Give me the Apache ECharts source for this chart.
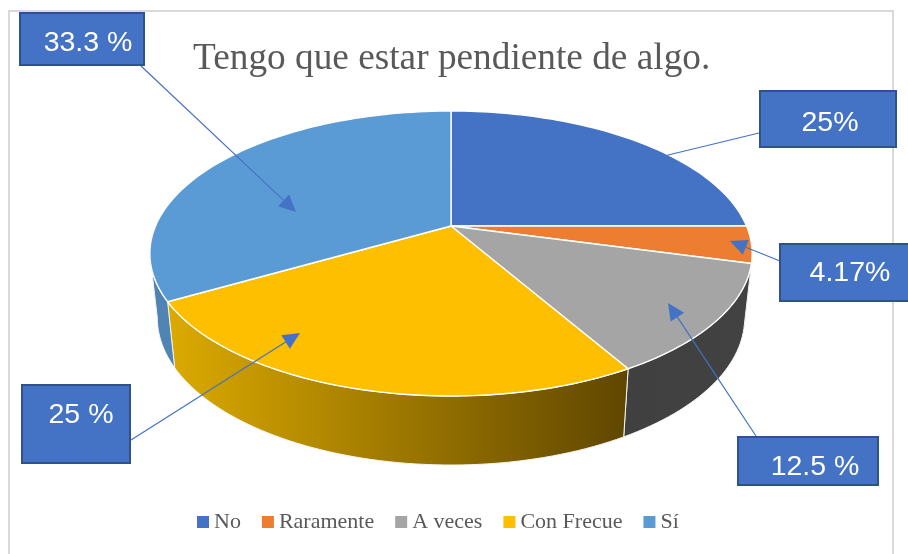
<!DOCTYPE html>
<html>
<head>
<meta charset="utf-8">
<style>html,body{margin:0;padding:0;background:#fff}#c{width:908px;height:554px}</style>
<script src="https://cdn.jsdelivr.net/npm/echarts@6/dist/echarts.min.js"></script>
</head>
<body>
<div id="c"></div>
<script>
const categories = ['No', 'Raramente', 'A veces', 'Con Frecue', 'Sí'];
const values = [25, 4.17, 12.5, 25, 33.3];
const topColors = ['#4472c4', '#ed7d31', '#a5a5a5', '#fdbf00', '#5b9bd5'];
const wallLeft = ['#2f5597', '#a5571f', '#404040', '#dcaa00', '#4f82ae'];
const wallRight = ['#2f5597', '#a5571f', '#424242', '#5f4600', '#4f86b8'];
const calloutTexts = ['25%', '4.17%', '12.5 %', '25 %', '33.3 %'];

// Perspective frame of the pie
const frame = {
  cx: 451, apexY: 226, b: 295.5, a: 137.2, k: 0.193,
  topCy: 253.5, topRx: 301, topRy: 142.5,
  botCy: 318, botRx: 293.5, botRy: 147
};
const total = values.reduce((s, v) => s + v, 0);
const starts = [];
values.reduce((s, v, i) => { starts[i] = s; return s + v; }, 0);
// Angle at which the rim reaches its horizontal extreme: the wall's silhouette
const silhouette = Math.acos(-frame.k) * 180 / Math.PI;

function rim(deg) {            // deg clockwise from north
  const r = deg * Math.PI / 180;
  const x = Math.sin(r), y = -Math.cos(r), d = 1 - frame.k * y;
  return [frame.cx + frame.b * x / d, frame.apexY + frame.a * y / d];
}
function lower(p) {
  const u = (p[0] - frame.cx) / frame.topRx, v = (p[1] - frame.topCy) / frame.topRy;
  return [frame.cx + frame.botRx * u, frame.botCy + frame.botRy * v];
}
function arc(a0, a1) {
  const n = Math.max(2, Math.ceil(Math.abs(a1 - a0) / 1.5)), out = [];
  for (let i = 0; i <= n; i++) out.push(rim(a0 + (a1 - a0) * i / n));
  return out;
}
function sliceRender(i) {
  return function (params, api) {
    const a0 = starts[i] / total * 360;
    const a1 = a0 + api.value(0) / total * 360;
    const children = [];
    const w0 = Math.max(a0, silhouette), w1 = Math.min(a1, 360 - silhouette);
    if (w1 > w0) {
      const upper = arc(w0, w1);
      children.push({
        type: 'polygon', z2: 1,
        shape: { points: upper.concat(upper.map(lower).reverse()) },
        style: {
          fill: new echarts.graphic.LinearGradient(0, 0, 1, 0, [
            { offset: 0, color: wallLeft[i] }, { offset: 1, color: wallRight[i] }
          ]),
          stroke: '#f4f4f4', lineWidth: 1, lineJoin: 'round'
        }
      });
    }
    children.push({
      type: 'polygon', z2: 20,
      shape: { points: [[frame.cx, frame.apexY]].concat(arc(a0, a1)) },
      style: { fill: api.visual('color'), stroke: '#fff', lineWidth: 1.4, lineJoin: 'round' }
    });
    return { type: 'group', children };
  };
}

// Callout boxes: [x, y, w, h, textX, textY, tailX, tailY, tipX, tipY]
const callouts = [
  [760, 91, 136, 56, 830, 123, 759, 133, 631, 164],
  [780, 244, 140, 57, 850, 273.5, 780, 261, 730, 241],
  [738, 437, 140, 48, 815, 467.5, 756, 436, 668, 303],
  [22, 385, 108, 78, 81, 415.5, 131, 440, 300, 333],
  [20, 13, 124, 52, 88, 43, 141, 66, 296, 212]
];
const graphics = [{
  type: 'rect', z: -10, silent: true,
  shape: { x: 9, y: 11, width: 884, height: 560 },
  style: { fill: '#fff', stroke: '#d9d9d9', lineWidth: 2 }
}];
callouts.forEach((c, i) => {
  const dx = c[8] - c[6], dy = c[9] - c[7], L = Math.hypot(dx, dy), ux = dx / L, uy = dy / L;
  const hl = 17, hw = 8;
  const bx = c[8] - ux * hl, by = c[9] - uy * hl;
  graphics.push({
    type: 'line', z: 30, silent: true,
    shape: { x1: c[6], y1: c[7], x2: bx, y2: by },
    style: { stroke: '#4472c4', lineWidth: 1.2 }
  }, {
    type: 'polygon', z: 30, silent: true,
    shape: { points: [[c[8], c[9]], [bx - uy * hw, by + ux * hw], [bx + uy * hw, by - ux * hw]] },
    style: { fill: '#4472c4' }
  }, {
    type: 'rect', z: 31, silent: true,
    shape: { x: c[0], y: c[1], width: c[2], height: c[3] },
    style: { fill: '#4472c4', stroke: '#2f528f', lineWidth: 2 }
  }, {
    type: 'text', z: 32, silent: true,
    style: {
      x: c[4], y: c[5], text: calloutTexts[i], fill: '#fff',
      font: '28.5px "Liberation Sans"', align: 'center', verticalAlign: 'middle'
    }
  });
});

const chart = echarts.init(document.getElementById('c'), null, { renderer: 'canvas' });
chart.setOption({
  animation: false,
  backgroundColor: '#fff',
  title: {
    text: 'Tengo que estar pendiente de algo.',
    left: 193, top: 41, padding: 0,
    textStyle: { fontFamily: 'Liberation Serif', fontSize: 37.3, fontWeight: 'normal', color: '#595959' }
  },
  legend: {
    data: categories, left: 197, top: 511, padding: 0,
    icon: 'rect', itemWidth: 12, itemHeight: 12, itemGap: 21, selectedMode: false,
    textStyle: { fontFamily: 'Liberation Serif', fontSize: 22, color: '#595959', padding: [0, 0, 0, 0] }
  },
  graphic: graphics,
  series: categories.map((name, i) => ({
    type: 'custom', name, coordinateSystem: 'none', silent: true,
    itemStyle: { color: topColors[i] },
    renderItem: sliceRender(i),
    data: [[values[i]]]
  }))
});
</script>
</body>
</html>
